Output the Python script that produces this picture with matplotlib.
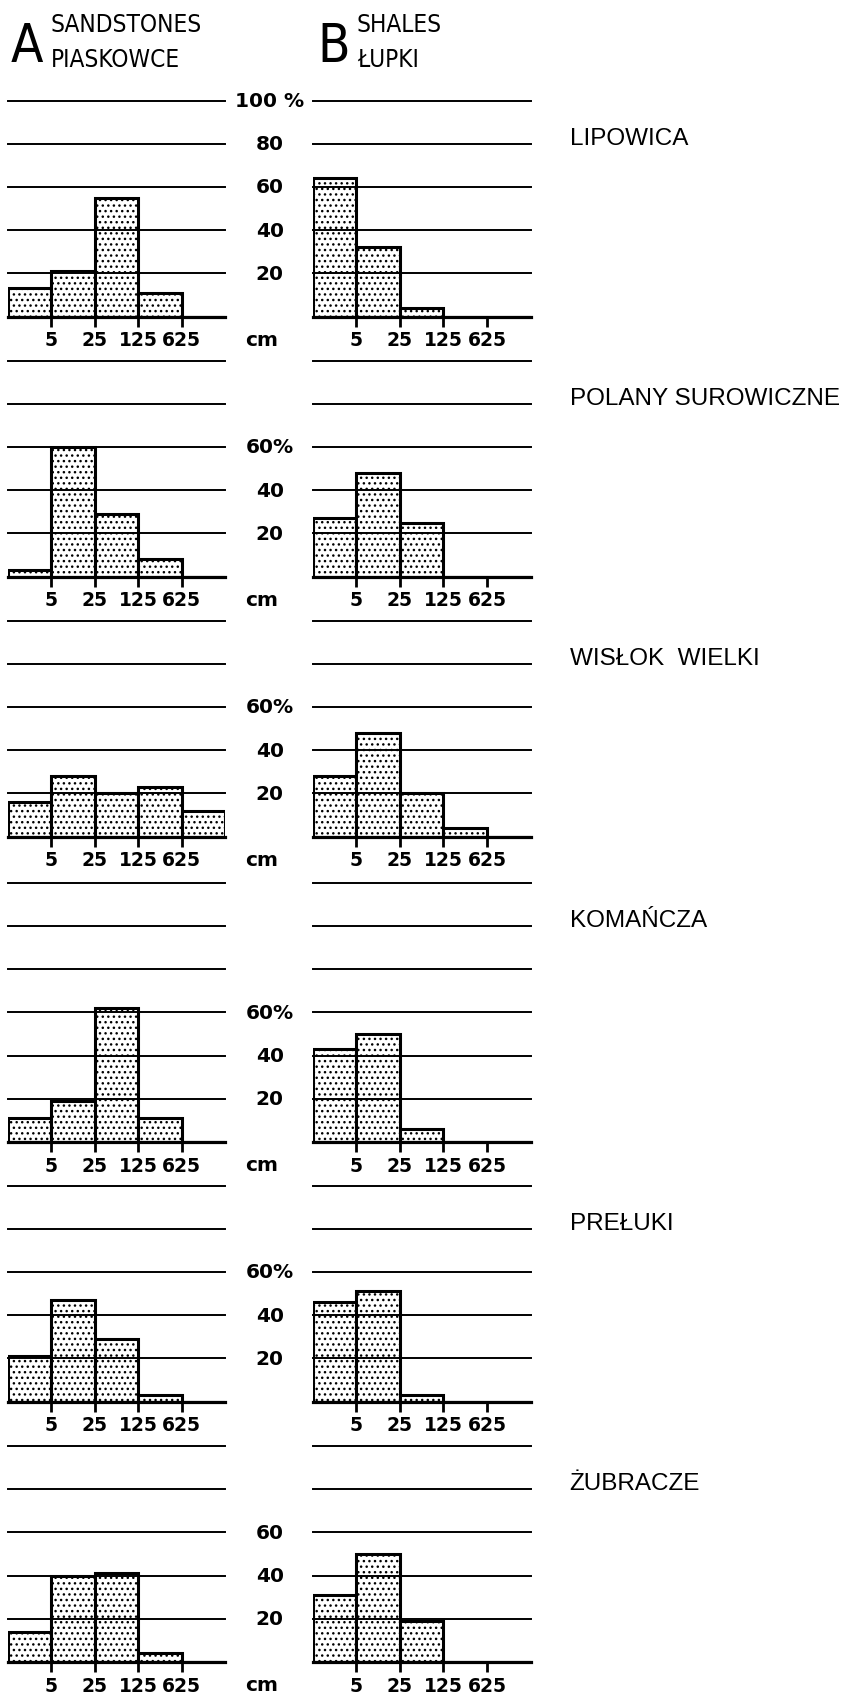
import matplotlib
matplotlib.use('Agg')
import matplotlib.pyplot as plt

W, H = 848, 1699
DPI = 100

# stations, top to bottom
stations = ['LIPOWICA', 'POLANY SUROWICZNE', 'WISŁOK  WIELKI',
            'KOMAŃCZA', 'PREŁUKI', 'ŻUBRACZE']

# bed thickness classes (cm): <5, 5-25, 25-125, 125-625, >625
class_bounds = ['5', '25', '125', '625']

# percentages
sandstones = [
    [13, 21, 55, 11, 0],
    [3, 60, 29, 8, 0],
    [16, 28, 20, 23, 12],
    [11, 19, 62, 11, 0],
    [21, 47, 29, 3, 0],
    [14, 40, 41, 4, 0],
]
shales = [
    [64, 32, 4, 0, 0],
    [27, 48, 25, 0, 0],
    [28, 48, 20, 4, 0],
    [43, 50, 6, 0, 0],
    [46, 51, 3, 0, 0],
    [31, 50, 19, 0, 0],
]

grid_top = [100, 100, 100, 120, 100, 100]
mid_labels = [
    [(100, '100 %'), (80, '80'), (60, '60'), (40, '40'), (20, '20')],
    [(60, '60%'), (40, '40'), (20, '20')],
    [(60, '60%'), (40, '40'), (20, '20')],
    [(60, '60%'), (40, '40'), (20, '20')],
    [(60, '60%'), (40, '40'), (20, '20')],
    [(60, '60'), (40, '40'), (20, '20')],
]
show_cm = [True, True, True, True, False, True]

# layout in pixels
baselines = [317.5, 577.5, 837.5, 1143, 1402.5, 1663]
px_per_pct = 43.2 / 20
cols = [(8, 225), (312.5, 530.5)]

head_font = dict(family='DejaVu Sans', stretch='condensed')
num_font = dict(family='DejaVu Sans', weight='bold', fontsize=13.5)
mid_font = dict(family='DejaVu Sans', weight='bold', fontsize=14.5)

fig = plt.figure(figsize=(W / DPI, H / DPI), dpi=DPI)
fig.patch.set_facecolor('white')

for i, name in enumerate(stations):
    top = grid_top[i]
    base = baselines[i]
    h = top * px_per_pct
    for j, vals in enumerate([sandstones[i], shales[i]]):
        x0, x1 = cols[j]
        ax = fig.add_axes([x0 / W, 1 - base / H, (x1 - x0) / W, h / H])
        ax.set_xlim(0, 5)
        ax.set_ylim(0, top)
        for s in ax.spines.values():
            s.set_visible(False)
        ax.patch.set_alpha(0)
        ax.bar(range(5), vals, width=1, align='edge', facecolor='white',
               edgecolor='black', hatch='...', linewidth=2.2, zorder=2)
        for lev in range(0, top + 1, 20):
            ax.axhline(lev, color='black', lw=2.3 if lev == 0 else 1.4,
                       zorder=3, clip_on=False)
        ax.set_yticks([])
        ax.set_xticks([1, 2, 3, 4])
        ax.set_xticklabels(class_bounds, **num_font)
        ax.tick_params(axis='x', length=7, width=2, direction='out', pad=3)
        if j == 0:
            for lev, lab in mid_labels[i]:
                ax.text(6.03, lev, lab, ha='center', va='center',
                        clip_on=False, **mid_font)
            if show_cm[i]:
                ax.text(5.85, -10.5, 'cm', ha='center', va='center',
                        clip_on=False, **mid_font)
        else:
            ax.text(5.9, top - 20, name, ha='left', va='baseline',
                    family='Liberation Sans', fontsize=17.5, clip_on=False)

# header
fig.text(11 / W, 1 - 62 / H, 'A', fontsize=38, va='baseline', **head_font)
fig.text(51 / W, 1 - 32 / H, 'SANDSTONES', fontsize=17.5, va='baseline', **head_font)
fig.text(51 / W, 1 - 67 / H, 'PIASKOWCE', fontsize=17.5, va='baseline', **head_font)
fig.text(317 / W, 1 - 62 / H, 'B', fontsize=38, va='baseline', **head_font)
fig.text(357 / W, 1 - 32 / H, 'SHALES', fontsize=17.5, va='baseline', **head_font)
fig.text(357 / W, 1 - 67 / H, 'ŁUPKI', fontsize=17.5, va='baseline', **head_font)

fig.savefig('out.png', dpi=DPI)
